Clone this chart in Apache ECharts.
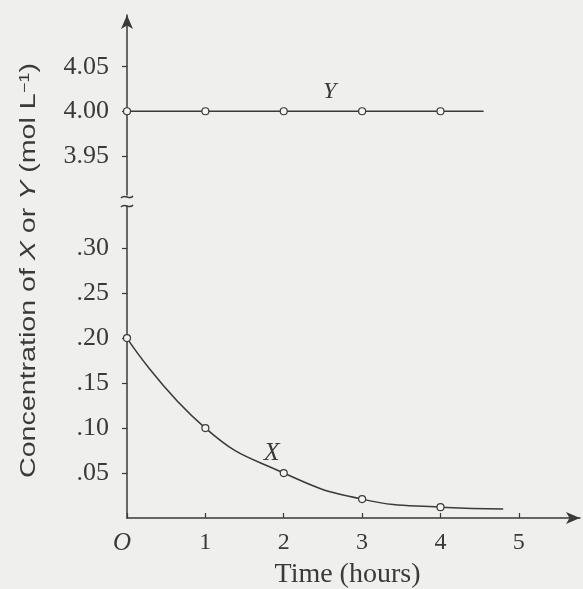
<!DOCTYPE html>
<html>
<head>
<meta charset="utf-8">
<script src="https://cdn.jsdelivr.net/npm/echarts@6/dist/echarts.min.js"></script>
<style>
  html, body { margin: 0; padding: 0; background: #efefed; }
  #chart { width: 583px; height: 589px; }
</style>
</head>
<body>
<div id="chart"></div>
<script>
// time (hours) and concentrations
var timeX = [0, 1, 2, 3, 4, 4.8];
var concX = [0.20, 0.10, 0.05, 0.021, 0.012, 0.01];
var timeY = [0, 1, 2, 3, 4, 4.55];
var concY = [4.00, 4.00, 4.00, 4.00, 4.00, 4.00];
var upperTicks = [3.95, 4.00, 4.05];
var lowerTicks = [0.05, 0.10, 0.15, 0.20, 0.25, 0.30];
var xTicks = [0, 1, 2, 3, 4, 5];

var ink = "#3a3a3a";
var bg = "#efefed";
var serif = "'Liberation Serif', 'DejaVu Serif', serif";
var sans = "'Liberation Sans', 'DejaVu Sans', sans-serif";

function pairs(xs, ys, lastBare) {
  return xs.map(function (x, i) {
    var item = { value: [x, ys[i]] };
    if (lastBare && i === xs.length - 1) item.symbol = "none";
    return item;
  });
}

var dataX = pairs(timeX, concX, true);
dataX[2].label = {
  show: true, formatter: "X", position: "top", offset: [-12, 2],
  fontFamily: serif, fontStyle: "italic", fontSize: 26, color: ink
};
var dataY = pairs(timeY, concY, true);
dataY[2].label = {
  show: true, formatter: "Y", position: "top", offset: [46, 2],
  fontFamily: serif, fontStyle: "italic", fontSize: 24, color: ink
};

var chart = echarts.init(document.getElementById("chart"));
chart.setOption({
  backgroundColor: bg,
  animation: false,
  grid: [
    { left: 127, right: 3, top: 15, height: 180, outerBoundsMode: "none", containLabel: false },
    { left: 127, right: 3, top: 205, bottom: 71, outerBoundsMode: "none", containLabel: false }
  ],
  xAxis: [
    {
      gridIndex: 0, type: "value", min: 0, max: 5.78,
      show: false
    },
    {
      gridIndex: 1, type: "value", min: 0, max: 5.78,
      axisLine: {
        show: true, symbol: ["none", "arrow"], symbolSize: [9, 14],
        lineStyle: { color: ink, width: 1.5 }
      },
      axisTick: { show: true, customValues: xTicks, length: 5, inside: true, lineStyle: { color: ink, width: 1.2 } },
      axisLabel: {
        customValues: xTicks, margin: 13,
        fontFamily: serif, fontSize: 24, color: ink,
        formatter: function (v) { return v === 0 ? "{o|O}" : String(v); },
        rich: { o: { fontFamily: serif, fontStyle: "italic", fontSize: 25, color: ink, padding: [0, 10, 0, 0] } }
      },
      splitLine: { show: false },
      name: "Time (hours)",
      nameLocation: "middle",
      nameGap: 41,
      nameTextStyle: { fontFamily: serif, fontSize: 28, color: ink, padding: [0, 0, 0, -12] }
    }
  ],
  yAxis: [
    {
      gridIndex: 0, type: "value", min: 3.906, max: 4.108,
      axisLine: {
        show: true, symbol: ["none", "arrow"], symbolSize: [9, 14],
        lineStyle: { color: ink, width: 1.5 }
      },
      axisTick: { show: true, customValues: upperTicks, length: 5, lineStyle: { color: ink, width: 1.2 } },
      axisLabel: {
        customValues: upperTicks, margin: 18,
        fontFamily: serif, fontSize: 26, color: ink,
        formatter: function (v) { return v.toFixed(2); }
      },
      splitLine: { show: false }
    },
    {
      gridIndex: 1, type: "value", min: 0, max: 0.348,
      axisLine: { show: true, lineStyle: { color: ink, width: 1.5 } },
      axisTick: { show: true, customValues: lowerTicks, length: 5, lineStyle: { color: ink, width: 1.2 } },
      axisLabel: {
        customValues: lowerTicks, margin: 18,
        fontFamily: serif, fontSize: 26, color: ink,
        formatter: function (v) { return v.toFixed(2).replace(/^0/, ""); }
      },
      splitLine: { show: false }
    }
  ],
  graphic: [
    {
      type: "text",
      x: 40, y: 478,
      rotation: Math.PI / 2,
      scaleX: 1.3,
      style: {
        text: "Concentration of {i|X} or {i|Y} (mol L{s|−1})",
        font: "22px " + sans, fill: ink,
        textVerticalAlign: "bottom",
        rich: {
          i: { fontFamily: sans, fontStyle: "italic", fontSize: 22, fill: ink },
          s: { fontFamily: sans, fontSize: 14, fill: ink, verticalAlign: "top", padding: [0, 0, 8, 0] }
        }
      }
    },
    {
      type: "rect", x: 123, y: 196, shape: { width: 8, height: 10 },
      style: { fill: bg }, z: 100
    },
    {
      type: "bezierCurve", x: 121, y: 192, z: 101,
      shape: { x1: 0, y1: 6, cpx1: 4, cpy1: 1, cpx2: 8, cpy2: 9, x2: 12, y2: 4 },
      style: { fill: "none", stroke: ink, lineWidth: 1.5 }
    },
    {
      type: "bezierCurve", x: 121, y: 201, z: 101,
      shape: { x1: 0, y1: 6, cpx1: 4, cpy1: 1, cpx2: 8, cpy2: 9, x2: 12, y2: 4 },
      style: { fill: "none", stroke: ink, lineWidth: 1.5 }
    }
  ],
  series: [
    {
      name: "Y", type: "line", xAxisIndex: 0, yAxisIndex: 0,
      data: dataY,
      symbol: "circle", symbolSize: 7,
      itemStyle: { color: "#f4f4f2", borderColor: ink, borderWidth: 1.2 },
      lineStyle: { color: ink, width: 1.5 }
    },
    {
      name: "X", type: "line", xAxisIndex: 1, yAxisIndex: 1,
      data: dataX, smooth: 0.5,
      symbol: "circle", symbolSize: 7,
      itemStyle: { color: "#f4f4f2", borderColor: ink, borderWidth: 1.2 },
      lineStyle: { color: ink, width: 1.5 }
    }
  ]
});
</script>
</body>
</html>
